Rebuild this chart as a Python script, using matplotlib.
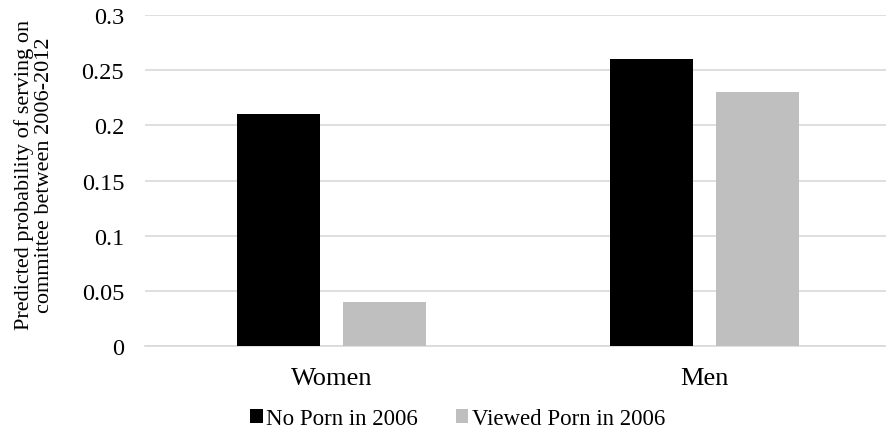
import numpy as np
import matplotlib.pyplot as plt

categories = ['Women', 'Men']
no_porn = [0.21, 0.26]
viewed_porn = [0.04, 0.23]
series_names = ['No Porn in 2006', 'Viewed Porn in 2006']
yticks = [0, 0.05, 0.1, 0.15, 0.2, 0.25, 0.3]
ytick_labels = ['0', '0.05', '0.1', '0.15', '0.2', '0.25', '0.3']

plt.rcParams['font.family'] = ['Liberation Serif', 'DejaVu Serif']

fig = plt.figure(figsize=(8.86, 4.35), dpi=100)
# plot area runs past the right edge of the figure, like the original
ax = fig.add_axes([145 / 886, 1 - 347 / 435, 746 / 886, 331 / 435])

x = np.arange(len(categories))
w = 0.224
ax.bar(x - 0.142, no_porn, w, color='black', label=series_names[0], zorder=3)
ax.bar(x + 0.142, viewed_porn, w, color='#bfbfbf', label=series_names[1], zorder=3)

ax.set_xlim(-0.5, 1.5)
ax.set_ylim(0, 0.3)
ax.set_yticks(yticks)
ax.set_yticklabels(ytick_labels, fontsize=17.5)
ax.set_xticks(x)
ax.set_xticklabels(categories, fontsize=19)
ax.tick_params(axis='y', length=0, pad=15)
ax.tick_params(axis='x', length=0, pad=15)
ax.grid(axis='y', color='#d9d9d9', linewidth=1.2, zorder=0)
for s in ['top', 'right', 'left']:
    ax.spines[s].set_visible(False)
ax.spines['bottom'].set_color('#d9d9d9')
ax.spines['bottom'].set_linewidth(1.2)

ax.set_ylabel('Predicted probability of serving on\ncommittee between 2006-2012',
              fontsize=16, linespacing=1.1)
ax.yaxis.set_label_coords(-(145 - 54) / 746, (347 - 175) / 331)

fig.legend(loc='center', bbox_to_anchor=(457.5 / 886, 1 - 420 / 435), ncol=2,
           frameon=False, fontsize=16.5, handlelength=0.55, handleheight=0.55,
           handletextpad=0.15, columnspacing=1.65)

fig.savefig('out.png', dpi=100)
